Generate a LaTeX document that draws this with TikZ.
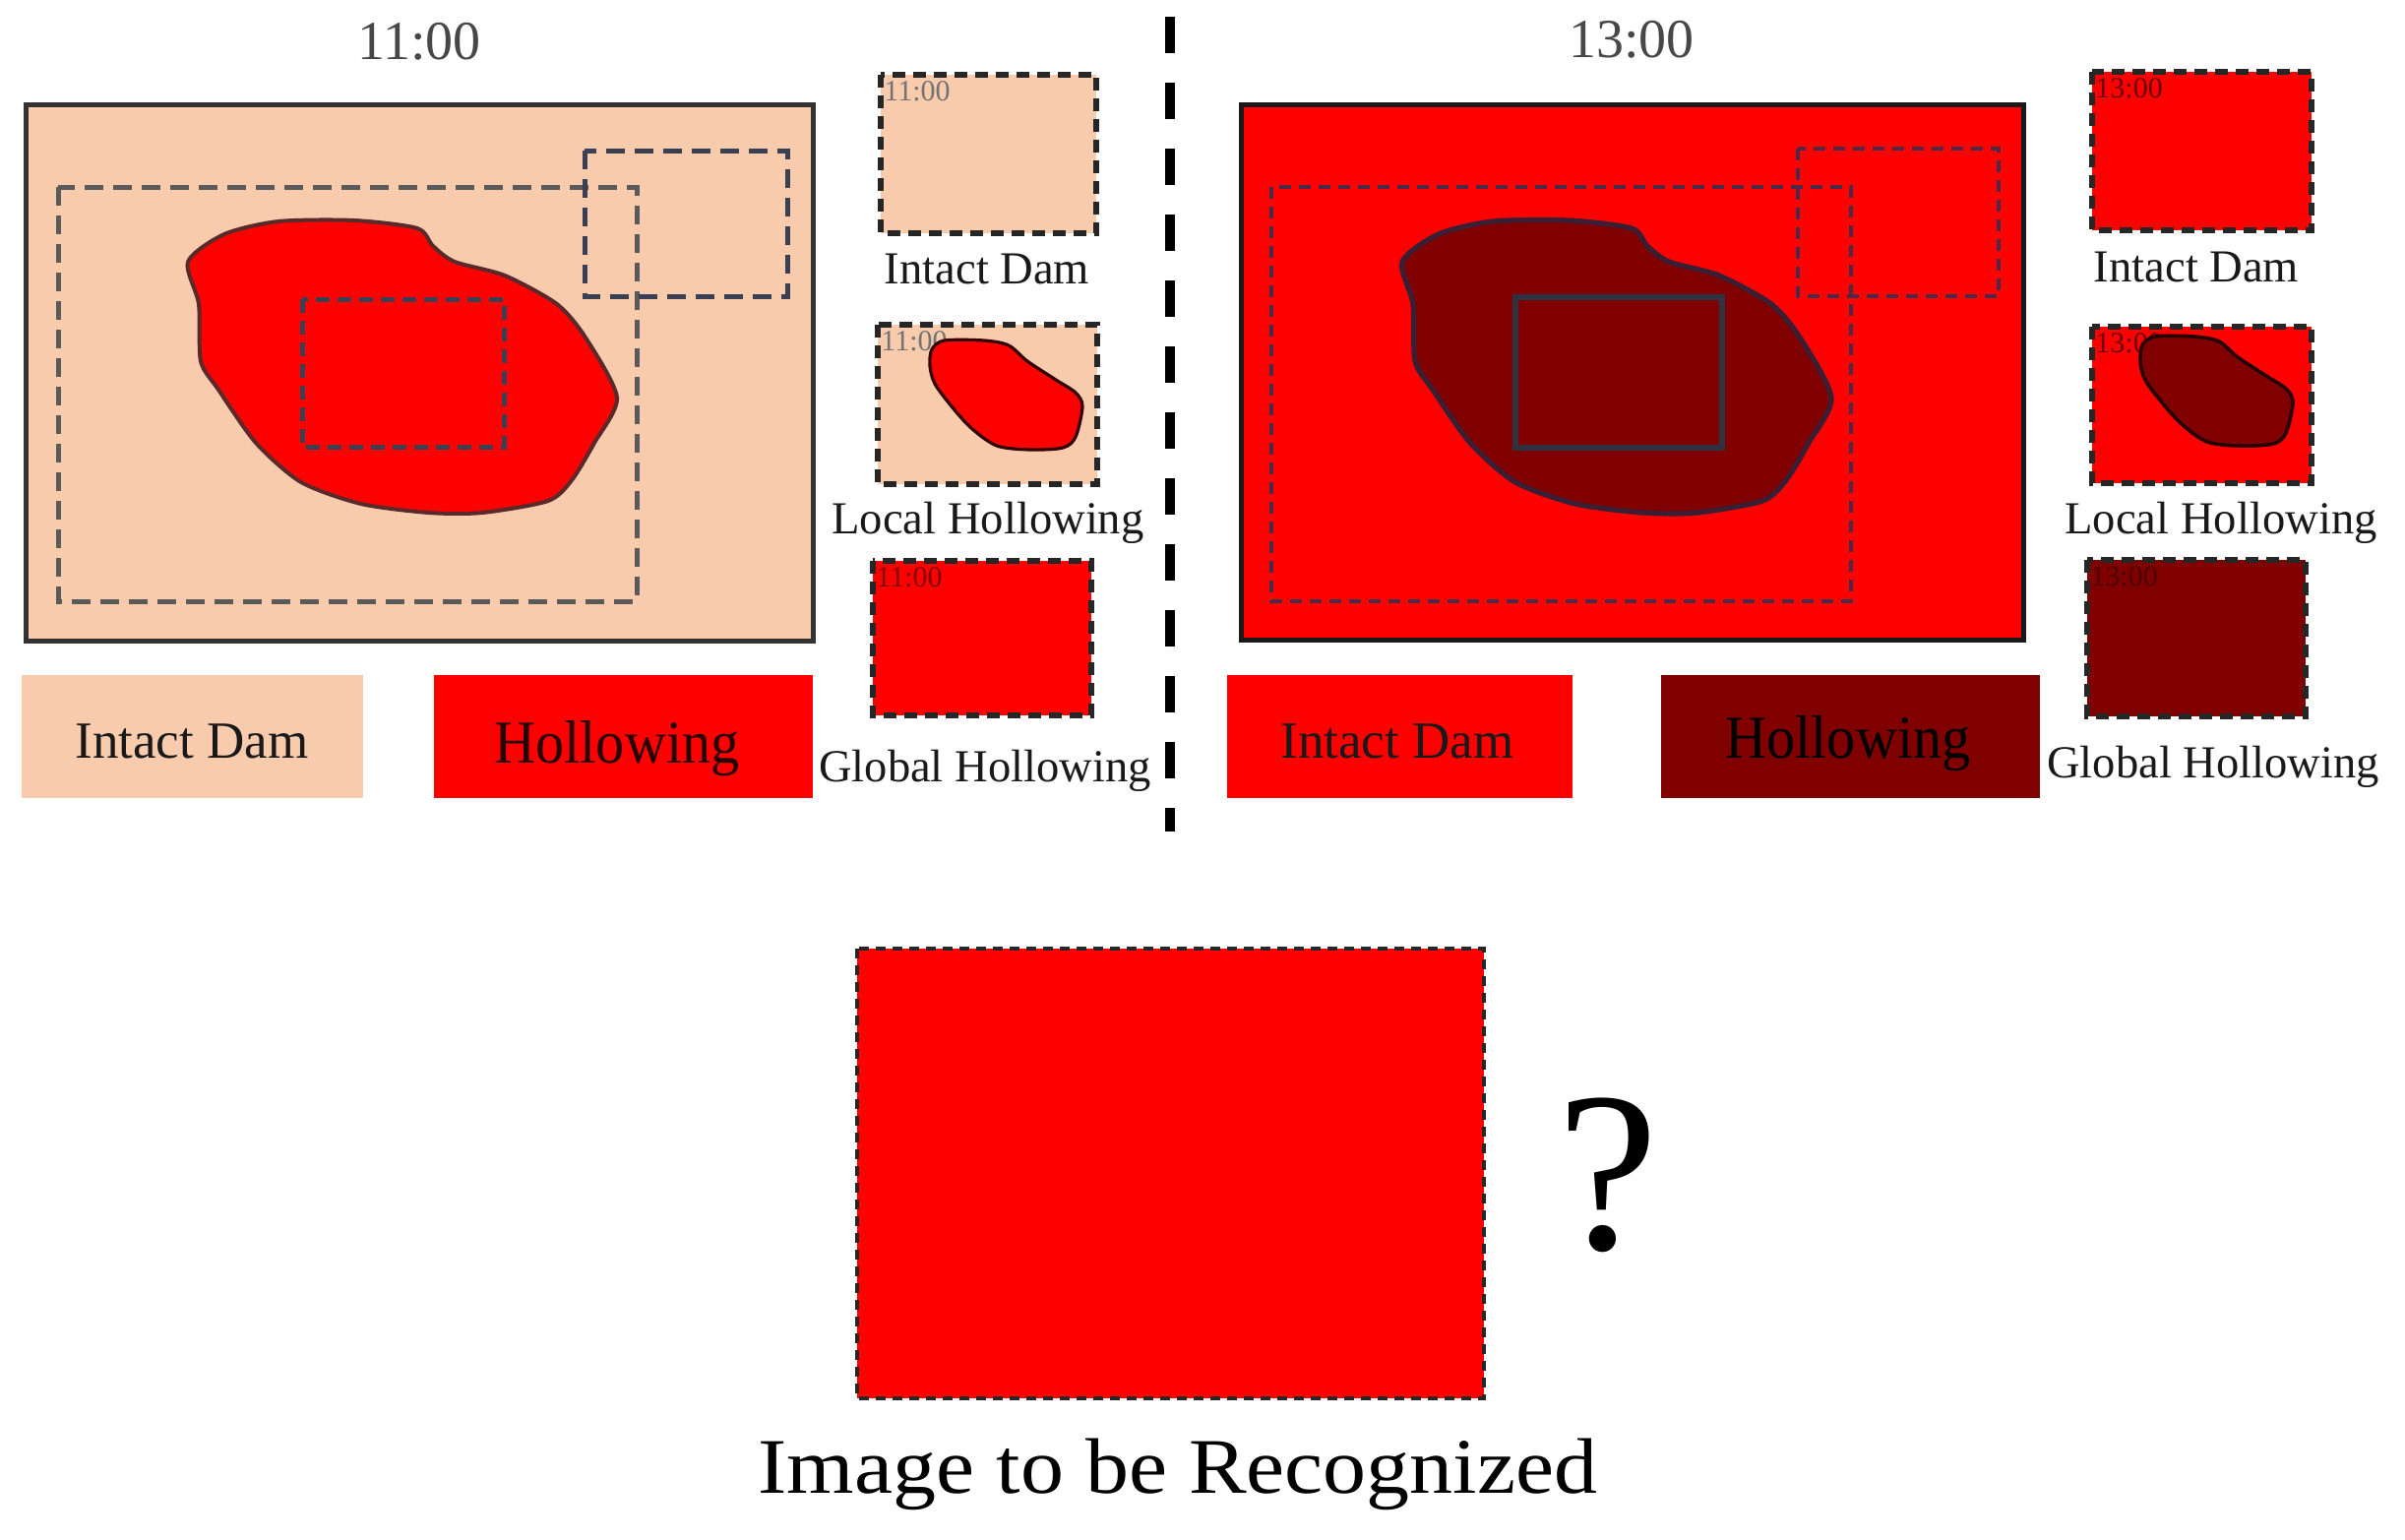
\documentclass[tikz,border=0pt]{standalone}
\usepackage{fontspec}
\setmainfont{Liberation Serif}
\definecolor{peach}{HTML}{F8CBAD}
\definecolor{hred}{HTML}{FF0000}
\definecolor{dred}{HTML}{800000}
\definecolor{roigray}{HTML}{5A5A5A}
\definecolor{roiblue}{HTML}{3A4052}
\definecolor{roipurp}{HTML}{4A2A48}
\definecolor{blobedgeL}{HTML}{5A2A2A}
\definecolor{blobedgeR}{HTML}{3A1E34}
\newcommand{\bigblobpts}{(191,266) (228,238) (283,225) (360,224) (424,232) (440,250) (462,266) (513,280) (566,309) (595,343) (627,404) (604,450) (581,488) (557,509) (490,521) (436,521) (367,512) (306,490) (260,450) (222,396) (204,367) (202,309)}
\newcommand{\smallblobpts}{(55,25) (68,16) (108,16) (133,21) (152,37) (181,56) (201,69) (208,83) (201,114) (188,125) (155,127) (121,123) (95,105) (75,83) (58,60) (53,42)}
\begin{document}
\begin{tikzpicture}[x=0.5pt,y=-0.5pt,
  frame/.style={line width=2.5pt, draw=black!80},
  roiL/.style={draw=roigray, line width=2.5pt, dash pattern=on 9.5pt off 5pt},
  roiR/.style={draw=roipurp, line width=1.8pt, dash pattern=on 6pt off 4pt},
  thumb/.style={draw=black!85, line width=3pt, dash pattern=on 6.5pt off 4pt},
  title/.style={font=\fontsize{28}{30}\selectfont, text=black!72, inner sep=0, anchor=base},
  lbl/.style={font=\fontsize{23.3}{26}\selectfont, text=black!90, inner sep=0, anchor=base},
  tiny/.style={font=\fontsize{15}{16}\selectfont, inner sep=0, anchor=north west},
  legtxt/.style={font=\fontsize{26.5}{28}\selectfont, text=black!90, inner sep=0, anchor=base},
  divider/.style={line width=5pt, draw=black, dash pattern=on 18.5pt off 15pt}
]
\useasboundingbox (0,0) rectangle (2444,1564);

% ---------------- left panel (11:00) ----------------
\node[title] (titleL) at (426,60) {11:00};
\filldraw[fill=peach, frame] (26,106) rectangle (826,651);
\draw[roiL] (59,190) rectangle (647,611);
\draw[roiL, draw=roiblue] (594,153) rectangle (800,301);
\filldraw[fill=hred, draw=blobedgeL, line width=2pt] plot[smooth cycle, tension=0.45] coordinates {\bigblobpts};
\draw[draw=roiblue, line width=2.5pt, dash pattern=on 7pt off 4pt] (307,304) rectangle (512,454);

% left thumbnails
\fill[peach] (895,76) rectangle (1114,237);
\node[tiny, text=black!55] (tl1) at (898,82) {11:00};
\draw[thumb] (895,76) rectangle (1114,237);
\node[lbl] (labL1) at (1003,288) {Intact Dam};

\fill[peach] (892,330) rectangle (1115,492);
\node[tiny, text=black!55] (tl2) at (895,336) {11:00};
\begin{scope}[shift={(892,330)}]
  \filldraw[fill=hred, draw=black!80!red, line width=1.6pt] plot[smooth cycle, tension=0.5] coordinates {\smallblobpts};
\end{scope}
\draw[thumb] (892,330) rectangle (1115,492);
\node[lbl] (labL2) at (1004,542) {Local Hollowing};

\fill[hred] (887,570) rectangle (1109,727);
\node[tiny, text=dred] (tl3) at (890,576) {11:00};
\draw[thumb] (887,570) rectangle (1109,727);
\node[lbl] (labL3) at (1001,794) {Global Hollowing};

% left legend
\fill[peach] (22,686) rectangle (369,811);
\node[legtxt] (legL1) at (195,770) {Intact Dam};
\fill[hred] (441,686) rectangle (826,811);
\node[legtxt, font=\fontsize{31}{33}\selectfont, text=black!85!red] (legL2) at (627,775) {\scalebox{0.94}[1]{Hollowing}};

% ---------------- divider ----------------
\coordinate (divtop) at (1189,17);
\coordinate (divbot) at (1189,845);
\draw[divider] (divtop) -- (divbot);

% ---------------- right panel (13:00) ----------------
\node[title] (titleR) at (1658,58) {13:00};
\filldraw[fill=hred, frame, draw=black!90] (1261,106) rectangle (2056,650);
\draw[roiR] (1292,190) rectangle (1881,611);
\draw[roiR] (1827,151) rectangle (2031,301);
\begin{scope}[shift={(1234,0)}]
  \filldraw[fill=dred, draw=blobedgeR, line width=2.6pt] plot[smooth cycle, tension=0.45] coordinates {\bigblobpts};
\end{scope}
\draw[draw=roiblue!80!black, line width=3pt] (1540,302) rectangle (1750,455);

% right thumbnails
\fill[hred] (2126,73) rectangle (2349,234);
\node[tiny, text=dred!80!black] (tr1) at (2129,79) {13:00};
\draw[thumb] (2126,73) rectangle (2349,234);
\node[lbl] (labR1) at (2232,286) {Intact Dam};

\fill[hred] (2126,332) rectangle (2349,491);
\node[tiny, text=dred!80!black] (tr2) at (2129,338) {13:00};
\begin{scope}[shift={(2122,326)}]
  \filldraw[fill=dred, draw=black!85!red, line width=1.8pt] plot[smooth cycle, tension=0.5] coordinates {\smallblobpts};
\end{scope}
\draw[thumb] (2126,332) rectangle (2349,491);
\node[lbl] (labR2) at (2257,542) {Local Hollowing};

\fill[dred] (2121,569) rectangle (2343,728);
\node[tiny, text=black!70!red] (tr3) at (2124,575) {13:00};
\draw[thumb] (2121,569) rectangle (2343,728);
\node[lbl] (labR3) at (2249,790) {Global Hollowing};

% right legend
\fill[hred] (1247,686) rectangle (1598,811);
\node[legtxt] (legR1) at (1420,770) {Intact Dam};
\fill[dred] (1688,686) rectangle (2073,811);
\node[legtxt, font=\fontsize{31}{33}\selectfont, text=black] (legR2) at (1878,770) {\scalebox{0.94}[1]{Hollowing}};

% ---------------- bottom ----------------
\filldraw[fill=hred, draw=black!85, line width=2pt, dash pattern=on 5pt off 3.5pt] (871,964) rectangle (1508,1421);
\node[font=\fontsize{116}{120}\selectfont, inner sep=0, anchor=base] (qmark) at (1634,1269) {?};
\node[font=\fontsize{40}{44}\selectfont, inner sep=0, anchor=base] (caption) at (1197,1517) {\scalebox{1.1}[1]{Image to be Recognized}};
\end{tikzpicture}
\end{document}
